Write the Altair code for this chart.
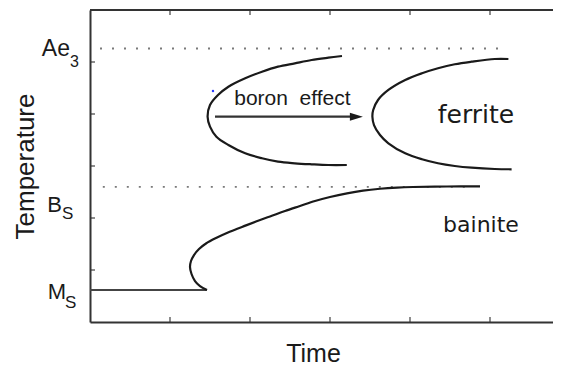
import altair as alt
import pandas as pd

# ---- data (x: time, in tick units; y: temperature, in tick units) ----
X_MAX = 5.7875
Y_MAX = 6.0

x_ticks = [1, 2, 3, 4, 5]
y_ticks = [1, 2, 3, 4, 5]

ae3_level = 5.26
bs_level = 2.60
ms_level = 0.615

ae3_span = [0.125, 5.225]
bs_span = [0.16, 4.80]
ms_span = [0.0, 1.46]

# ferrite start C-curve, steel without boron
ferrite1_t = [3.15, 2.98, 2.77, 2.56, 2.35, 2.15, 1.94, 1.73, 1.60, 1.50, 1.47,
              1.50, 1.58, 1.73, 1.94, 2.15, 2.35, 2.56, 2.77, 2.98, 3.21]
ferrite1_y = [5.115, 5.083, 5.038, 4.975, 4.91, 4.813, 4.687, 4.525, 4.365, 4.173, 3.948,
              3.756, 3.563, 3.404, 3.244, 3.148, 3.083, 3.052, 3.033, 3.019, 3.019]

# ferrite start C-curve, steel with boron
ferrite2_t = [5.23, 5.06, 4.77, 4.56, 4.35, 4.15, 3.94, 3.73, 3.60, 3.54, 3.53,
              3.55, 3.625, 3.73, 3.94, 4.15, 4.35, 4.56, 4.77, 5.06, 5.27]
ferrite2_y = [5.058, 5.058, 5.006, 4.956, 4.879, 4.783, 4.654, 4.462, 4.269, 4.077, 3.948,
              3.788, 3.596, 3.437, 3.244, 3.129, 3.052, 3.0, 2.967, 2.942, 2.937]

# bainite start curve
bainite_t = [1.4625, 1.375, 1.3125, 1.269, 1.25, 1.2625, 1.30, 1.3625, 1.45, 1.575,
             1.725, 1.90, 2.075, 2.25, 2.4375, 2.625, 2.8125, 3.0, 3.2125, 3.4125,
             3.625, 3.8375, 4.0375, 4.4625, 4.875]
bainite_y = [0.615, 0.692, 0.788, 0.923, 1.058, 1.173, 1.288, 1.404, 1.510, 1.615,
             1.721, 1.827, 1.933, 2.029, 2.135, 2.231, 2.327, 2.404, 2.475, 2.527,
             2.563, 2.585, 2.596, 2.606, 2.610]

arrow_t = [1.5625, 3.26]
arrow_y = 3.948
arrow_head_t = 3.33
blue_dot = (1.5375, 4.442)

FONT = "Liberation Sans"
INK = "#1a1a1a"

xscale = alt.Scale(domain=[0, X_MAX], nice=False, zero=False)
yscale = alt.Scale(domain=[0, Y_MAX], nice=False, zero=False)

xaxis = alt.Axis(title="Time", labels=False, ticks=False, grid=False,
                 domainColor="#333333", domainWidth=2,
                 titleFont=FONT, titleFontSize=25, titleFontWeight="normal",
                 titleColor=INK, titlePadding=19.5, titleX=223)
yaxis = alt.Axis(title="Temperature", labels=False, ticks=False, grid=False,
                 domainColor="#333333", domainWidth=2,
                 titleFont=FONT, titleFontSize=26, titleFontWeight="normal",
                 titleColor=INK, titlePadding=52)


def X(field="t"):
    return alt.X(f"{field}:Q", scale=xscale, axis=xaxis)


def Y(field="y"):
    return alt.Y(f"{field}:Q", scale=yscale, axis=yaxis)


def curve_df(ts, ys):
    return pd.DataFrame({"t": ts, "y": ys, "i": list(range(len(ts)))})


layers = []

# top border
top_df = pd.DataFrame({"t": [0.0], "t2": [X_MAX], "y": [Y_MAX]})
layers.append(alt.Chart(top_df).mark_rule(color="#333333", strokeWidth=2).encode(
    x=X(), x2="t2:Q", y=Y()))

# inward ticks
xt_df = pd.DataFrame({"t": x_ticks, "y": [0.0] * len(x_ticks)})
layers.append(alt.Chart(xt_df).mark_tick(orient="vertical", size=5, thickness=1.6,
                                         yOffset=-2.5, color="#333333").encode(x=X(), y=Y()))
xt2_df = pd.DataFrame({"t": x_ticks, "y": [Y_MAX] * len(x_ticks)})
layers.append(alt.Chart(xt2_df).mark_tick(orient="vertical", size=5, thickness=1.6,
                                          yOffset=2.5, color="#333333").encode(x=X(), y=Y()))
yt_df = pd.DataFrame({"t": [0.0] * len(y_ticks), "y": y_ticks})
layers.append(alt.Chart(yt_df).mark_tick(orient="horizontal", size=5, thickness=1.6,
                                         xOffset=2.5, color="#333333").encode(x=X(), y=Y()))

# dotted reference levels
dots_df = pd.DataFrame({"t": [ae3_span[0], bs_span[0]], "t2": [ae3_span[1], bs_span[1]],
                        "y": [ae3_level, bs_level]})
layers.append(alt.Chart(dots_df).mark_rule(color="#7a7a7a", strokeWidth=1.8,
                                           strokeDash=[2, 10]).encode(x=X(), x2="t2:Q", y=Y()))

# Ms line
ms_df = pd.DataFrame({"t": [ms_span[0]], "t2": [ms_span[1]], "y": [ms_level]})
layers.append(alt.Chart(ms_df).mark_rule(color="#444444", strokeWidth=1.8).encode(
    x=X(), x2="t2:Q", y=Y()))

# curves
for ts, ys in [(ferrite1_t, ferrite1_y), (ferrite2_t, ferrite2_y), (bainite_t, bainite_y)]:
    layers.append(alt.Chart(curve_df(ts, ys)).mark_line(
        color=INK, strokeWidth=2.2, interpolate="catmull-rom").encode(
        x=X(), y=Y(), order="i:Q"))

# arrow
arr_df = pd.DataFrame({"t": [arrow_t[0]], "t2": [arrow_t[1]], "y": [arrow_y]})
layers.append(alt.Chart(arr_df).mark_rule(color="#333333", strokeWidth=2.2).encode(
    x=X(), x2="t2:Q", y=Y()))
head_df = pd.DataFrame({"t": [arrow_head_t], "y": [arrow_y]})
layers.append(alt.Chart(head_df).mark_point(shape="M1,0L-1,-0.62L-1,0.62Z", filled=True,
                                            size=169, opacity=1, color=INK).encode(x=X(), y=Y()))

# blue speck
blue_df = pd.DataFrame({"t": [blue_dot[0]], "y": [blue_dot[1]]})
layers.append(alt.Chart(blue_df).mark_point(filled=True, size=6, opacity=1,
                                            color="#2a3cff").encode(x=X(), y=Y()))

# annotations inside the plot
def note(text, t, y, size, font=FONT, align="center"):
    df = pd.DataFrame({"t": [t], "y": [y], "label": [text]})
    return alt.Chart(df).mark_text(font=font, fontSize=size, color=INK, align=align,
                                   baseline="alphabetic").encode(x=X(), y=Y(), text="label:N")

layers.append(note("boron\u00a0\u00a0effect", 2.53, 4.173, 21))
layers.append(note("ferrite", 4.825, 3.827, 25, font="DejaVu Sans"))
layers.append(note("bainite", 4.8875, 1.731, 22, font="DejaVu Sans"))

# axis level labels with subscripts
def level_label(text, level, size, dx, dy, align):
    df = pd.DataFrame({"t": [0.0], "y": [level], "label": [text]})
    return alt.Chart(df).mark_text(font=FONT, fontSize=size, color=INK, align=align,
                                   baseline="alphabetic", dx=dx, dy=dy).encode(
        x=X(), y=Y(), text="label:N")

layers.append(level_label("Ae", ae3_level, 23, -20, 7.5, "right"))
layers.append(level_label("3", ae3_level, 16, -20, 18.5, "left"))
layers.append(level_label("B", bs_level, 22, -28, 25.5, "right"))
layers.append(level_label("S", bs_level, 17, -28, 32.5, "left"))
layers.append(level_label("M", ms_level, 22, -24, 9, "right"))
layers.append(level_label("S", ms_level, 17, -25, 18, "left"))

chart = alt.layer(*layers).properties(
    width=463, height=312,
    padding={"left": 82, "top": 2, "right": 0, "bottom": 45},
    autosize=alt.AutoSizeParams(type="none"),
    background="white",
).configure_view(stroke=None)

chart.save("out.html", embed_options={"renderer": "svg", "actions": False})
